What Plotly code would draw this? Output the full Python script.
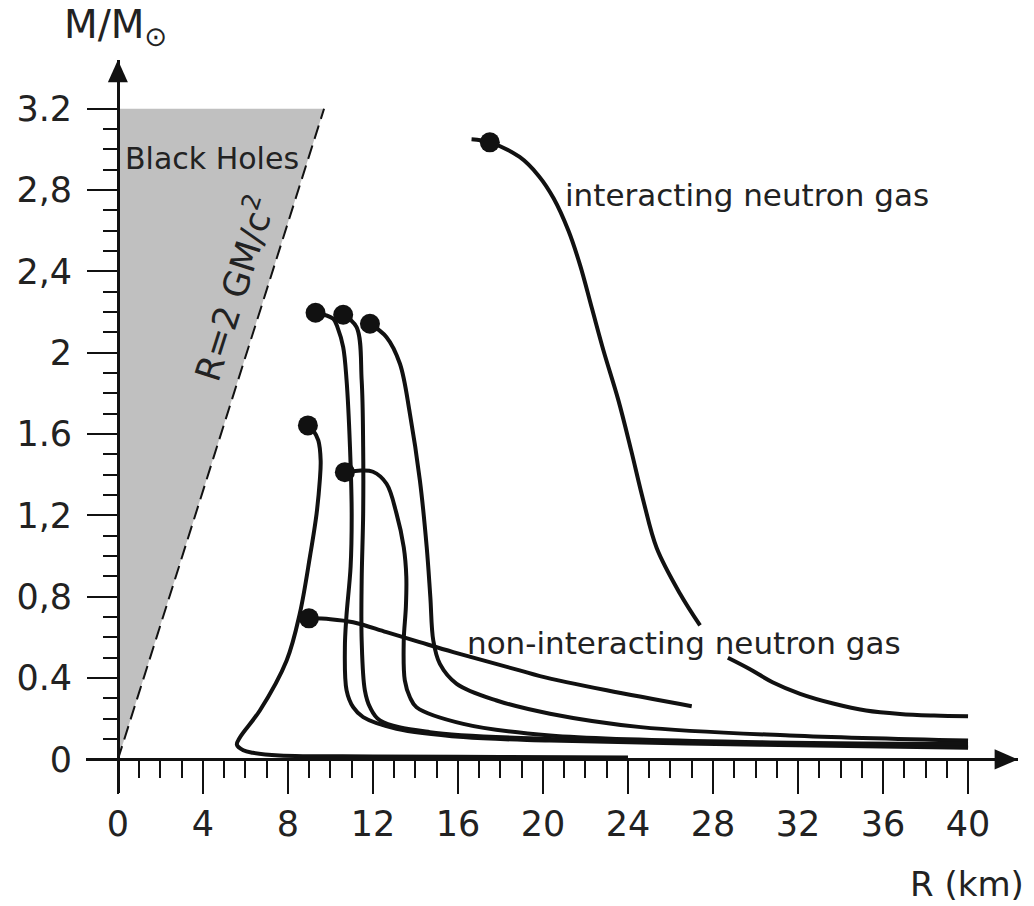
import plotly.graph_objects as go

# ---------------- data (R in km, M in solar masses) ----------------
INT_R = [16.64, 17.5, 18.9, 19.8, 20.5, 21.2, 21.75, 22.3, 22.85, 23.55, 24.15, 24.72, 25.35, 26.45, 27.39,
         None, 28.7, 29.7, 30.8, 32.1, 33.7, 35.2, 36.8, 38.4, 40.0]
INT_M = [3.05, 3.035, 2.963, 2.87, 2.76, 2.60, 2.43, 2.22, 2.01, 1.766, 1.52, 1.274, 1.04, 0.815, 0.659,
         None, 0.50, 0.446, 0.38, 0.323, 0.274, 0.241, 0.224, 0.216, 0.212]

NONINT_R = [8.99, 10.0, 11.07, 12.64, 14.2, 15.78, 18.9, 19.86, 23.0, 27.0]
NONINT_M = [0.694, 0.69, 0.675, 0.626, 0.577, 0.528, 0.438, 0.41, 0.34, 0.262]

B_R = [9.3, 10.13, 10.35, 10.6, 10.76, 10.92, 11.0, 10.95, 10.75, 10.68, 10.76, 11.07, 11.54, 13.11, 16.25, 20.33, 30.2, 40.0]
B_M = [2.197, 2.167, 2.12, 2.028, 1.864, 1.536, 1.209, 0.95, 0.70, 0.55, 0.34, 0.257, 0.208, 0.151, 0.11, 0.093, 0.072, 0.057]

C_R = [10.6, 11.23, 11.47, 11.54, 11.54, 11.47, 11.47, 11.62, 11.86, 12.33, 14.68, 20.33, 30.2, 40.0]
C_M = [2.187, 2.126, 1.864, 1.536, 1.209, 0.88, 0.585, 0.34, 0.257, 0.192, 0.134, 0.101, 0.08, 0.062]

D_R = [11.86, 12.64, 13.27, 13.74, 14.21, 14.53, 14.7, 14.84, 15.15, 15.94, 17.82, 20.33, 24.6, 31.6, 40.0]
D_M = [2.143, 2.077, 1.946, 1.70, 1.372, 1.044, 0.80, 0.585, 0.47, 0.372, 0.29, 0.225, 0.159, 0.118, 0.093]

E_R = [10.68, 11.3, 12.0, 12.64, 13.11, 13.45, 13.57, 13.55, 13.45, 13.5, 13.74, 14.05, 16.25, 20.33, 30.2, 40.0]
E_M = [1.413, 1.42, 1.415, 1.356, 1.209, 1.044, 0.90, 0.75, 0.585, 0.389, 0.306, 0.257, 0.175, 0.118, 0.085, 0.077]

F_R = [8.94, 9.19, 9.43, 9.54, 9.5, 9.35, 9.04, 8.56, 7.94, 6.68, 5.74, 5.6, 5.9, 6.35, 7.6, 12.0, 18.0, 24.0]
F_M = [1.643, 1.618, 1.569, 1.471, 1.372, 1.21, 1.0, 0.718, 0.487, 0.241, 0.108, 0.072, 0.045, 0.033, 0.02, 0.015, 0.012, 0.01]

DOT_R = [17.5, 9.3, 10.6, 11.86, 10.68, 8.94, 8.99]
DOT_M = [3.035, 2.197, 2.187, 2.143, 1.413, 1.643, 0.694]

# Black-hole region bounded by R = 2GM/c^2
BH_R = [0, 0, 9.7, 0]
BH_M = [0, 3.2, 3.2, 0]
SCH_R = [0, 9.7]
SCH_M = [0, 3.2]

X_TICKS = [0, 4, 8, 12, 16, 20, 24, 28, 32, 36, 40]
X_MINOR = [v for v in range(1, 40) if v % 4 != 0]
Y_TICKS = [0, 0.4, 0.8, 1.2, 1.6, 2.0, 2.4, 2.8, 3.2]
Y_LABELS = ["0", "0.4", "0,8", "1,2", "1.6", "2", "2,4", "2,8", "3.2"]
Y_MINOR = [round(0.1 * k, 1) for k in range(1, 32) if k % 4 != 0]

# ---------------- styling ----------------
INK = "#111111"
TXT = "#222222"
FONT = "DejaVu Sans"
LW = 4

X_RANGE = [-1.5, 42.35]
Y_RANGE = [-0.165, 3.44]


def px(x):
    return (x - X_RANGE[0]) / (X_RANGE[1] - X_RANGE[0])


def py(y):
    return (y - Y_RANGE[0]) / (Y_RANGE[1] - Y_RANGE[0])


fig = go.Figure()

fig.add_trace(go.Scatter(x=BH_R, y=BH_M, mode="lines", fill="toself",
                         fillcolor="#c0c0c0", line=dict(width=0), hoverinfo="skip"))
fig.add_trace(go.Scatter(x=SCH_R, y=SCH_M, mode="lines",
                         line=dict(color=INK, width=2, dash="14px,7px")))

for rr, mm in [(INT_R, INT_M), (NONINT_R, NONINT_M), (B_R, B_M), (C_R, C_M),
               (D_R, D_M), (E_R, E_M), (F_R, F_M)]:
    fig.add_trace(go.Scatter(x=rr, y=mm, mode="lines",
                             line=dict(color=INK, width=LW, shape="spline", smoothing=1.0),
                             connectgaps=False))

fig.add_trace(go.Scatter(x=DOT_R, y=DOT_M, mode="markers",
                         marker=dict(color=INK, size=20, line=dict(width=0))))

tick_font = dict(family=FONT, size=35, color=TXT)

fig.update_xaxes(
    range=X_RANGE, anchor="free", position=py(0),
    showline=True, linecolor=INK, linewidth=2.5,
    showgrid=False, zeroline=False,
    tickmode="array", tickvals=X_TICKS, ticktext=[str(v) for v in X_TICKS],
    ticks="outside", ticklen=33, tickwidth=2, tickcolor=INK,
    tickfont=tick_font, ticklabelstandoff=0,
    minor=dict(tickmode="array", tickvals=X_MINOR, ticks="outside",
               ticklen=17, tickwidth=2, tickcolor=INK, showgrid=False),
)
fig.update_yaxes(
    range=Y_RANGE, anchor="free", position=px(0),
    showline=True, linecolor=INK, linewidth=2.5,
    showgrid=False, zeroline=False,
    tickmode="array", tickvals=Y_TICKS, ticktext=Y_LABELS,
    ticks="outside", ticklen=30, tickwidth=2, tickcolor=INK,
    tickfont=tick_font, ticklabelstandoff=8,
    minor=dict(tickmode="array", tickvals=Y_MINOR, ticks="outside",
               ticklen=14, tickwidth=2, tickcolor=INK, showgrid=False),
)

# axis arrowheads
fig.add_shape(type="path", xref="x", yref="y",
              path="M 42.35 0 L 41.25 0.05 L 41.25 -0.05 Z",
              fillcolor=INK, line=dict(width=0))
fig.add_shape(type="path", xref="x", yref="y",
              path="M 0 3.44 L 0.47 3.33 L -0.47 3.33 Z",
              fillcolor=INK, line=dict(width=0))

lab = dict(family=FONT, size=31, color=TXT)
fig.add_annotation(x=0.25, y=2.956, text="Black Holes", showarrow=False,
                   xanchor="left", yanchor="middle",
                   font=dict(family=FONT, size=30, color=TXT))
fig.add_annotation(x=20.94, y=2.774, text="interacting neutron gas", showarrow=False,
                   xanchor="left", yanchor="middle", font=lab)
fig.add_annotation(x=16.33, y=0.571, text="non-interacting neutron gas", showarrow=False,
                   xanchor="left", yanchor="middle", font=lab)
fig.add_annotation(x=5.4, y=2.32, text="R=2 GM/c<sup>2</sup>", showarrow=False,
                   textangle=-72.4, xanchor="center", yanchor="middle",
                   font=dict(family=FONT, size=35, color=TXT))
# axis titles (outside the data range -> paper coordinates)
fig.add_annotation(xref="paper", yref="paper", x=px(-2.64), y=py(3.6),
                   text="M/M<sub>⊙</sub>", showarrow=False,
                   xanchor="left", yanchor="middle",
                   font=dict(family=FONT, size=39, color=TXT))
fig.add_annotation(xref="paper", yref="paper", x=px(42.73), y=py(-0.615),
                   text="R (km)", showarrow=False,
                   xanchor="right", yanchor="middle",
                   font=dict(family=FONT, size=34, color=TXT))

fig.update_layout(
    width=1034, height=906,
    margin=dict(l=86, r=16, t=60, b=113),
    paper_bgcolor="white", plot_bgcolor="white",
    showlegend=False,
)

fig.write_html("out.html")
